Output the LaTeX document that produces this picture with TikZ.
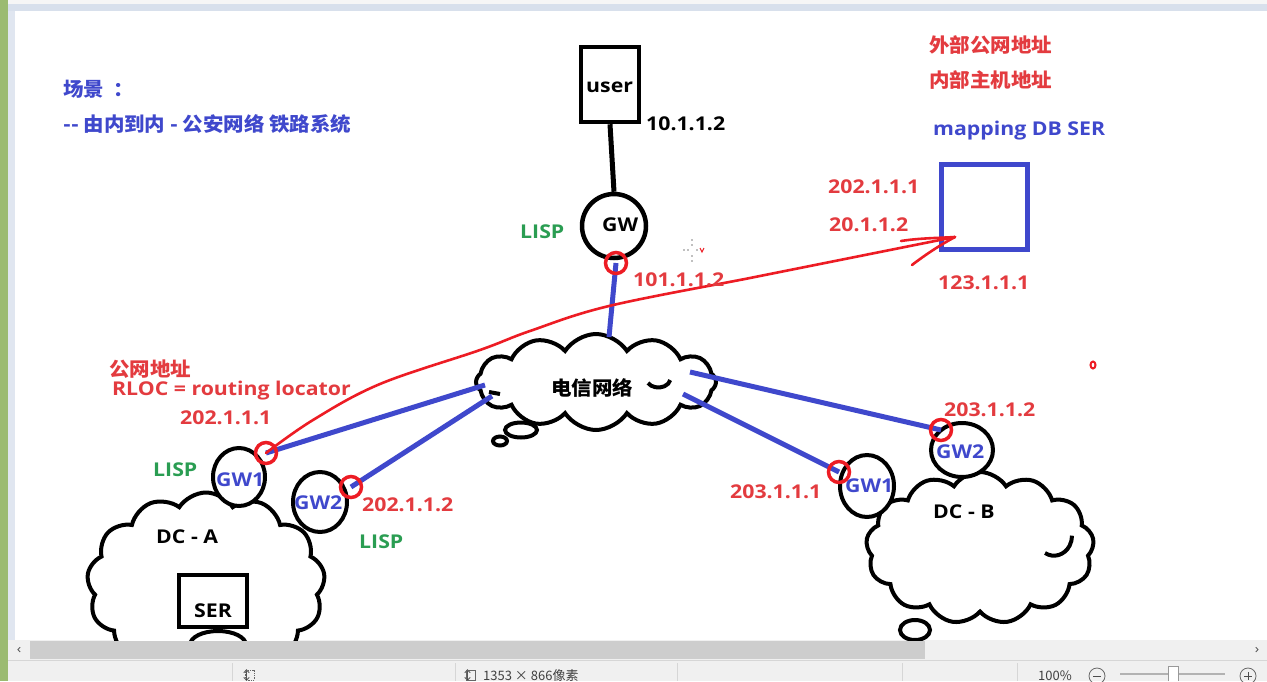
\documentclass[tikz,border=0pt]{standalone}
\usepackage{fontspec}
\newfontfamily\lat[FakeStretch=1.12]{Open Sans}
\newfontfamily\cjk{Noto Sans CJK SC}
\newfontfamily\cjkw[FakeStretch=1.05]{Noto Sans CJK SC}
\usetikzlibrary{shapes.geometric,shapes.symbols,calc}
\definecolor{tblue}{HTML}{3F48CC}
\definecolor{tred}{HTML}{ED1C24}
\definecolor{ttred}{HTML}{E33B3F}
\definecolor{tgreen}{HTML}{2A9D52}
\definecolor{wgreen}{HTML}{9BBB71}
\definecolor{wblue}{HTML}{D8E0EC}
\definecolor{wgray}{HTML}{F0F0F0}
\definecolor{wthumb}{HTML}{CDCDCD}
\definecolor{wsep}{HTML}{D6D6D6}
\tikzset{
  lab/.style={font=\lat\bfseries\fontsize{19}{21}\selectfont, inner sep=0pt, anchor=west},
  cjklab/.style={font=\cjkw\bfseries\fontsize{19.5}{22}\selectfont, inner sep=0pt, anchor=west},
  redlab/.style={lab, text=ttred},
  greenlab/.style={lab, text=tgreen},
  bluelab/.style={lab, text=tblue},
  blacklab/.style={lab, text=black},
  cloudbox/.style={cloud, cloud ignores aspect, draw=black, fill=white, line width=4pt},
  gwring/.style={ellipse, draw=black, fill=white, line width=4pt, inner sep=0pt},
  bubble/.style={ellipse, draw=black, line width=4pt, inner sep=0pt},
  link/.style={tblue, line width=5pt},
  wire/.style={black, line width=5pt},
  hit/.style={circle, draw=tred, line width=3.5pt, minimum size=21pt, inner sep=0pt},
  boxnode/.style={rectangle, draw=black, line width=4.5pt, fill=white, inner sep=0pt},
  stat/.style={font=\cjk\fontsize{13}{14}\selectfont, text=black!75, inner sep=0pt, anchor=west},
}
\begin{document}
\begin{tikzpicture}[x=1pt,y=-1pt]
\useasboundingbox (0,0) rectangle (1267,681);
% window chrome
\fill[white] (0,0) rectangle (1267,681);
\fill[wgray!60] (0,0) rectangle (1267,4);
\fill[wblue] (0,4) rectangle (1267,11);
\fill[wblue!80] (8,11) rectangle (15,640);
\fill[white] (15,11) rectangle (1267,640);
\fill[wgray] (8,640) rectangle (1267,660);
\fill[wthumb] (30,641) rectangle (925,659);
\node[font=\lat\fontsize{13}{14}\selectfont, text=black!70, inner sep=0pt] (larr) at (19,650) {‹};
\node[font=\lat\fontsize{13}{14}\selectfont, text=black!70, inner sep=0pt] (rarr) at (1257,650) {›};
\fill[wgray] (8,661) rectangle (1267,681);
\draw[wsep, line width=1pt] (8,660.5) -- (1267,660.5);
\foreach \sx in {232,455,677,902,1017} \draw[wsep, line width=1pt] (\sx,663) -- (\sx,681);
\node[stat] (ico1) at (240,676) {↕};
\draw[black!60, densely dotted, line width=0.8pt] (245,670) rectangle (254,680);
\node[stat] (ico2) at (461,676) {↕};
\draw[black!60, line width=0.8pt] (466,670) rectangle (475,680);
\node[stat] (size) at (483,676) {1353 × 866像素};
\node[stat] (zoomtxt) at (1038,676) {100\%};
\node[circle, draw=black!60, line width=0.8pt, minimum size=16pt, inner sep=0pt] (minus) at (1097,676) {};
\draw[black!70, line width=1pt] (1093,676) -- (1101,676);
\draw[black!30, line width=2pt] (1120,674) -- (1225,674);
\fill[white] (1168,666) rectangle (1178,681);
\draw[black!40, line width=0.8pt] (1168,681) -- (1168,666) -- (1178,666) -- (1178,681);
\node[circle, draw=black!60, line width=0.8pt, minimum size=16pt, inner sep=0pt] (plus) at (1248,676) {};
\draw[black!70, line width=1pt] (1244,676) -- (1252,676) (1248,672) -- (1248,680);
\fill[wgreen] (0,0) rectangle (8,681);

\begin{scope}
\clip (15,11) rectangle (1267,640);
% clouds
\node[cloudbox, cloud puffs=12, cloud puff arc=115, minimum width=240pt, minimum height=96pt] (net) at (596,382) {};
\node[bubble, minimum width=32pt, minimum height=15pt] (tail1) at (521,430) {};
\node[bubble, minimum width=14pt, minimum height=9pt] (tail2) at (500,441) {};
\draw[black, line width=4pt] (648,383) arc (150:10:12 and 9);
\draw[black, line width=4pt] (489,392) -- (500,394);
\node[cloudbox, cloud puffs=13, cloud puff arc=115, minimum width=238pt, minimum height=185pt] (dca) at (206,585) {};
\node[bubble, minimum width=56pt, minimum height=28pt] (dcatail) at (218,645) {};
\node[cloudbox, cloud puffs=13, cloud puff arc=115, minimum width=228pt, minimum height=152pt] (dcb) at (980,548) {};
\node[bubble, minimum width=30pt, minimum height=20pt] (dcbtail) at (915,630) {};
\draw[black, line width=4pt] (1045,553) arc (120:0:18 and 20);

% gateways
\node[gwring, minimum width=52pt, minimum height=58pt] (a1) at (239,477) {};
\node[gwring, minimum width=54pt, minimum height=60pt] (a2) at (320,502) {};
\node[gwring, minimum width=54pt, minimum height=62pt] (b1) at (867,486) {};
\node[gwring, minimum width=62pt, minimum height=54pt] (b2) at (962,450) {};
\node[circle, draw=black, fill=white, line width=4.5pt, minimum size=64pt, inner sep=0pt] (gw) at (614,226) {};

% boxes
\node[boxnode, minimum width=58pt, minimum height=75pt] (user) at (610,84.5) {};
\node[rectangle, draw=tblue, line width=5pt, inner sep=0pt, minimum width=86pt, minimum height=85pt] (db) at (984,206.5) {};
\node[boxnode, minimum width=68pt, minimum height=52pt] (ser) at (213,601) {};

% attachment points
\coordinate (pgw) at (616,263);
\coordinate (pa1) at (266,453);
\coordinate (pa2) at (351,487);
\coordinate (pb1) at (839,472);
\coordinate (pb2) at (941,430);
\coordinate (ntop) at (609,337);
\coordinate (na1) at (485,385);
\coordinate (na2) at (492,396);
\coordinate (nb1) at (683,394);
\coordinate (nb2) at (690,372);

% connectors
\draw[wire] (user.south) -- (gw.north);
\draw[link] (ntop) -- (pgw);
\draw[link] (na1) -- (pa1);
\draw[link] (na2) -- (pa2);
\draw[link] (nb1) -- (pb1);
\draw[link] (nb2) -- (pb2);

% red curved arrow
\coordinate (tip) at (955,237);
\draw[tred, line width=2.6pt, line cap=round] plot[smooth, tension=0.6] coordinates {(pa1) (313,420) (380,384) (480,350) (530,331) (609,306) (750,278) (800,268) (880,252) (tip)};
\draw[tred, line width=2.6pt, line cap=round] (901,241) .. controls (920,238) and (940,238) .. (tip);
\draw[tred, line width=2.6pt, line cap=round] (912,265) .. controls (925,255) and (940,245) .. (tip);

% red rings
\node[hit] (rgw) at (pgw) {};
\node[hit] (ra1) at (pa1) {};
\node[hit] (ra2) at (pa2) {};
\node[hit] (rb1) at (pb1) {};
\node[hit] (rb2) at (pb2) {};
\node[ellipse, draw=tred, line width=2pt, minimum width=5pt, minimum height=7pt, inner sep=0pt] (dot) at (1093,365) {};

% small crosshair marks
\foreach \dy in {-10,-5,6,11} \fill[black!50] (692,250+\dy) circle (0.8pt);
\foreach \dx in {-8,-4,5} \fill[black!50] (692+\dx,250) circle (0.8pt);
\draw[tred, line width=1pt] (700,248) -- (702,252) -- (704,248);

% texts
\node[cjklab, text=tblue] (t1) at (63,89) {场景\ \ ：};
\node[cjklab, text=tblue] (t2) at (63,124) {-- 由内到内 - 公安网络 铁路系统};
\node[blacklab] (tuser) at (586,87) {user};
\node[blacklab] (tip1) at (646,124) {10.1.1.2};
\node[blacklab] (tgw) at (602,225) {GW};
\node[greenlab] (lisp1) at (520,232) {LISP};
\node[redlab] (tip2) at (633,280) {101.1.1.2};
\node[cjklab, text=black] (tnet) at (551,388) {电信网络};
\node[cjklab, text=ttred] (t3) at (929,45) {外部公网地址};
\node[cjklab, text=ttred] (t4) at (929,80) {内部主机地址};
\node[bluelab] (tdb) at (933,131) {mapping DB SER};
\node[redlab] (tip3) at (828,187) {202.1.1.1};
\node[redlab] (tip4) at (829,225) {20.1.1.2};
\node[redlab] (tip5) at (938,283) {123.1.1.1};
\node[cjklab, text=ttred] (t5) at (109,369) {公网地址};
\node[redlab] (trloc) at (112,391) {RLOC = routing locator};
\node[redlab] (tip6) at (180,418) {202.1.1.1};
\node[greenlab] (lisp2) at (153,470) {LISP};
\node[bluelab] (ta1) at (216,480) {GW1};
\node[bluelab] (ta2) at (294,503) {GW2};
\node[redlab] (tip7) at (362,505) {202.1.1.2};
\node[greenlab] (lisp3) at (359,542) {LISP};
\node[blacklab] (tdca) at (156,537) {DC - A};
\node[blacklab] (tser) at (194,611) {SER};
\node[redlab] (tip8) at (730,492) {203.1.1.1};
\node[bluelab] (tb1) at (845,486) {GW1};
\node[redlab] (tip9) at (944,410) {203.1.1.2};
\node[bluelab] (tb2) at (936,452) {GW2};
\node[blacklab] (tdcb) at (933,512) {DC - B};
\end{scope}
\end{tikzpicture}
\end{document}
